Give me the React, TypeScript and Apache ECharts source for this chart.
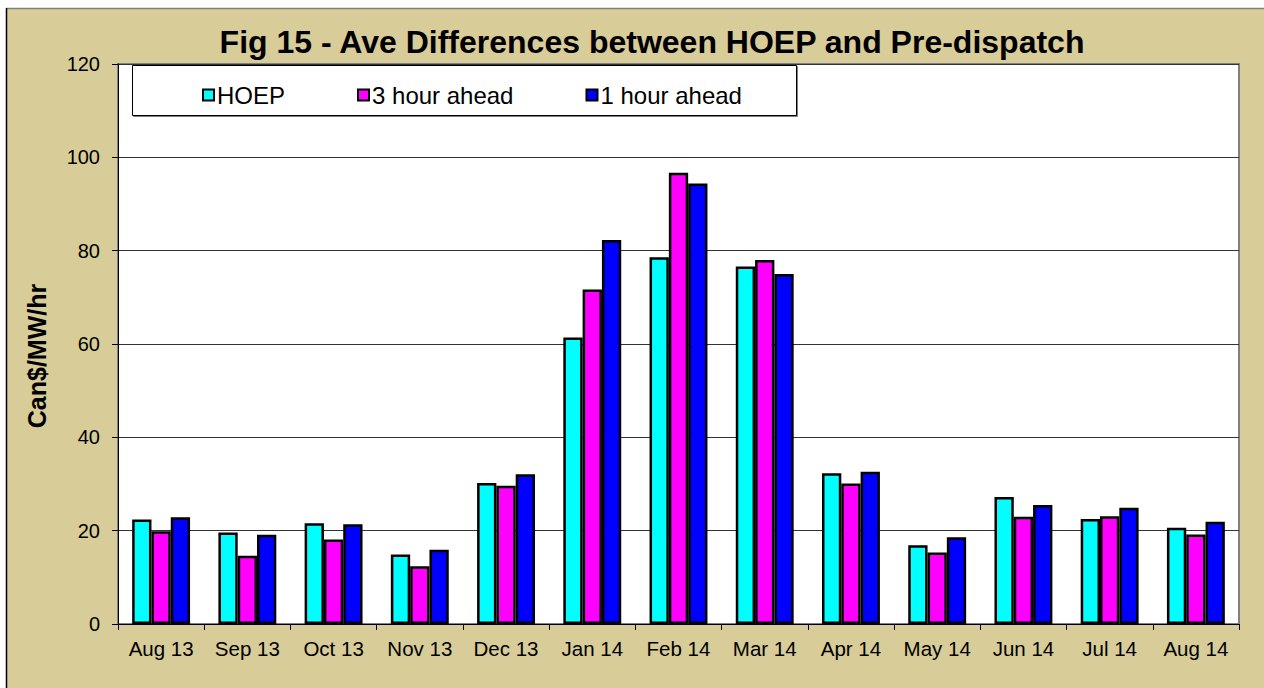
import React, { useEffect, useRef } from "react";
import * as echarts from "echarts";

const categories = ["Aug 13", "Sep 13", "Oct 13", "Nov 13", "Dec 13", "Jan 14", "Feb 14", "Mar 14", "Apr 14", "May 14", "Jun 14", "Jul 14", "Aug 14"];
const hoep = [22.4, 19.6, 21.6, 14.9, 30.2, 61.4, 78.6, 76.6, 32.3, 16.9, 27.2, 22.5, 20.6];
const threeHour = [19.9, 14.6, 18.1, 12.4, 29.6, 71.7, 96.7, 78.0, 30.1, 15.3, 23.0, 23.1, 19.2];
const oneHour = [22.9, 19.1, 21.4, 15.9, 32.1, 82.3, 94.4, 75.0, 32.6, 18.6, 25.5, 24.9, 21.9];
const seriesNames = ["HOEP", "3 hour ahead", "1 hour ahead"];
const seriesColors = ["#00FFFF", "#FF00FF", "#0000FF"];
const titleText = "Fig 15 - Ave Differences between HOEP and Pre-dispatch";
const yAxisName = "Can$/MW/hr";

const FONT = "'Liberation Sans', Arial, sans-serif";
const TAN = "#D8CC98";

export default function App() {
  const ref = useRef<HTMLDivElement>(null);
  useEffect(() => {
    if (!ref.current) return;
    const chart = echarts.init(ref.current, null, { renderer: "svg" });
    const dataSets = [hoep, threeHour, oneHour];
    chart.setOption({
      animation: false,
      backgroundColor: "#ffffff",
      textStyle: { fontFamily: FONT },
      graphic: [
        { type: "rect", z: -10, silent: true, shape: { x: 6, y: 8, width: 1300, height: 700 }, style: { fill: TAN, stroke: "none" } },
        { type: "line", z: -9, silent: true, shape: { x1: 6, y1: 8.5, x2: 1264, y2: 8.5 }, style: { stroke: "#808080", lineWidth: 1.5 } },
        { type: "line", z: -9, silent: true, shape: { x1: 6.5, y1: 8, x2: 6.5, y2: 688 }, style: { stroke: "#000", lineWidth: 1.5 } },
        { type: "text", silent: true, x: 652, y: 42, style: { text: titleText, font: `bold 32px ${FONT}`, fill: "#000", align: "center", verticalAlign: "middle" } },
        { type: "text", silent: true, x: 37, y: 356, rotation: Math.PI / 2, style: { text: yAxisName, font: `bold 25px ${FONT}`, fill: "#000", align: "center", verticalAlign: "middle" } },
        { type: "rect", z: 5, silent: true, shape: { x: 132.5, y: 65.5, width: 664, height: 50 }, style: { fill: "#fff", stroke: "#000", lineWidth: 1, shadowColor: "rgba(0,0,0,0.5)", shadowOffsetX: 1, shadowOffsetY: 1 } },
      ],
      legend: {
        show: true,
        z: 10,
        left: 197,
        top: 78,
        itemWidth: 11,
        itemHeight: 11,
        itemGap: 72,
        icon: "rect",
        itemStyle: { borderColor: "#000", borderWidth: 2 },
        textStyle: { fontSize: 24, color: "#000", fontFamily: FONT, padding: [0, 0, 0, -2] },
        data: seriesNames,
      },
      grid: {
        left: 118,
        right: 25,
        top: 64,
        bottom: 64,
        show: true,
        backgroundColor: "#fff",
        borderColor: "#808080",
        borderWidth: 2,
      },
      xAxis: {
        type: "category",
        data: categories,
        boundaryGap: true,
        axisLine: { lineStyle: { color: "#000", width: 1 } },
        axisTick: { show: true, interval: 0, alignWithLabel: false, length: 6, lineStyle: { color: "#000" } },
        axisLabel: { interval: 0, fontSize: 20.5, color: "#000", margin: 14, fontFamily: FONT },
      },
      yAxis: {
        type: "value",
        min: 0,
        max: 120,
        interval: 20,
        axisLine: { show: true, lineStyle: { color: "#000", width: 1 } },
        axisTick: { show: true, length: 6, lineStyle: { color: "#000" } },
        axisLabel: { fontSize: 20, color: "#000", margin: 18, fontFamily: FONT },
        splitLine: { show: true, lineStyle: { color: "#333", width: 1 } },
      },
      series: seriesNames.map((name, i) => ({
        name,
        type: "bar",
        data: dataSets[i],
        barWidth: 19.3,
        barGap: "0%",
        itemStyle: { color: seriesColors[i], borderColor: "#000", borderWidth: 2.5 },
      })),
    });
    return () => chart.dispose();
  }, []);
  return <div ref={ref} style={{ position: "fixed", left: 0, top: 0, width: 1264, height: 688 }} />;
}
